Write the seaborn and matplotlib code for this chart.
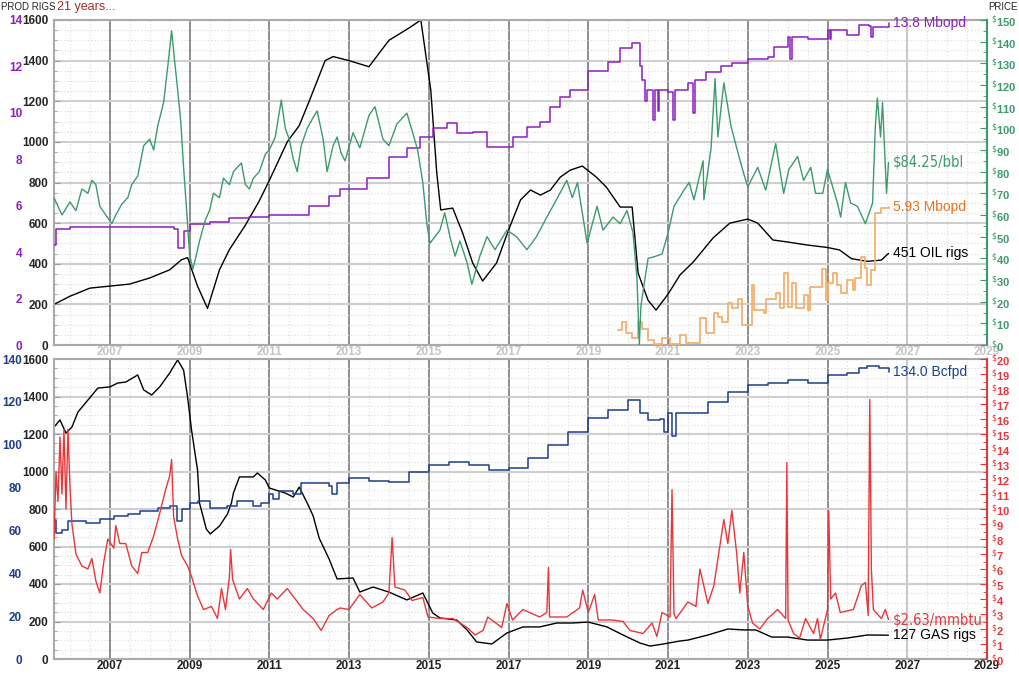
import matplotlib
matplotlib.use("Agg")
import matplotlib.pyplot as plt
import matplotlib.ticker as mticker
import seaborn as sns
import pandas as pd

# ---------------- data (year, value) ----------------
oil_rigs = [(2005.6, 200), (2006.0, 240), (2006.5, 280), (2007.0, 290), (2007.5, 300), (2008.0, 330),
            (2008.5, 370), (2008.8, 420), (2008.95, 430), (2009.2, 290), (2009.45, 180), (2009.75, 370),
            (2010.0, 470), (2010.4, 590), (2010.75, 710), (2011.0, 810), (2011.45, 1000), (2011.75, 1080),
            (2012.0, 1200), (2012.4, 1400), (2012.6, 1420), (2013.0, 1400), (2013.5, 1370), (2014.0, 1500),
            (2014.5, 1560), (2014.8, 1600), (2015.05, 1255), (2015.2, 847), (2015.3, 665), (2015.6, 674),
            (2015.85, 551), (2016.1, 404), (2016.35, 315), (2016.7, 404), (2017.0, 566), (2017.3, 714),
            (2017.55, 763), (2017.8, 738), (2018.05, 763), (2018.3, 827), (2018.55, 861), (2018.85, 881),
            (2019.2, 827), (2019.45, 778), (2019.8, 679), (2020.1, 679), (2020.25, 354), (2020.5, 220),
            (2020.7, 172), (2021.0, 250), (2021.3, 345), (2021.63, 408), (2022.13, 527), (2022.55, 600),
            (2023.0, 620), (2023.25, 600), (2023.63, 517), (2024.0, 507), (2024.5, 492), (2025.0, 480),
            (2025.3, 468), (2025.6, 425), (2026.0, 412), (2026.35, 418), (2026.53, 451)]

oil_prod = [(2005.6, 4.3), (2005.65, 5.0), (2006.0, 5.1), (2007.0, 5.1), (2008.0, 5.1), (2008.6, 5.0),
            (2008.7, 4.2), (2008.85, 4.9), (2009.0, 5.2), (2009.5, 5.3), (2010.0, 5.45), (2010.5, 5.5),
            (2011.0, 5.6), (2011.5, 5.6), (2012.0, 6.0), (2012.5, 6.4), (2012.77, 6.7), (2013.45, 7.2),
            (2014.0, 8.1), (2014.45, 8.5), (2014.78, 8.96), (2015.1, 9.35), (2015.45, 9.56), (2015.7, 9.13),
            (2016.1, 9.18), (2016.46, 8.53), (2016.78, 8.53), (2017.1, 8.96), (2017.46, 9.39), (2017.8, 9.6),
            (2018.04, 10.25), (2018.3, 10.7), (2018.55, 11.0), (2019.0, 11.8), (2019.5, 12.2), (2019.8, 12.8),
            (2020.1, 13.0), (2020.3, 12.0), (2020.35, 11.4), (2020.43, 10.5), (2020.47, 11.0), (2020.63, 9.7),
            (2020.67, 11.0), (2020.75, 10.1), (2020.78, 11.0), (2021.0, 10.9), (2021.13, 9.7), (2021.17, 11.0),
            (2021.5, 11.3), (2021.63, 10.0), (2021.67, 11.4), (2021.95, 11.76), (2022.33, 12.0),
            (2022.6, 12.15), (2023.0, 12.3), (2023.5, 12.4), (2023.65, 12.85), (2024.0, 13.25),
            (2024.05, 12.3), (2024.1, 13.25), (2024.5, 13.2), (2025.0, 13.55), (2025.05, 13.2),
            (2025.1, 13.55), (2025.5, 13.35), (2025.8, 13.8), (2026.05, 13.75), (2026.1, 13.25),
            (2026.15, 13.7), (2026.53, 13.85)]

oil_export = [(2019.75, 0.65), (2019.85, 1.0), (2019.95, 0.5), (2020.1, 0.3), (2020.25, 1.0), (2020.35, 0.7),
              (2020.5, 0.2), (2020.65, 0.05), (2020.85, 0.3), (2021.05, 0.05), (2021.3, 0.43), (2021.45, 0.1),
              (2021.8, 1.16), (2021.95, 0.5), (2022.15, 1.38), (2022.25, 1.2), (2022.35, 1.0), (2022.5, 1.8),
              (2022.6, 1.6), (2022.75, 2.0), (2022.85, 0.86), (2023.1, 2.58), (2023.15, 1.5), (2023.4, 1.38),
              (2023.45, 2.0), (2023.7, 2.24), (2023.8, 1.6), (2023.9, 3.1), (2024.0, 1.64), (2024.1, 2.67),
              (2024.2, 1.6), (2024.4, 2.15), (2024.5, 1.5), (2024.55, 2.5), (2024.8, 2.5), (2024.85, 3.27),
              (2024.95, 1.94), (2025.0, 2.67), (2025.15, 3.1), (2025.25, 2.6), (2025.35, 2.24), (2025.5, 2.8),
              (2025.65, 2.37), (2025.7, 2.9), (2025.85, 3.8), (2025.95, 3.3), (2026.0, 2.6), (2026.1, 3.23),
              (2026.2, 5.7), (2026.35, 5.9), (2026.53, 5.93)]

oil_price = [(2005.6, 68), (2005.7, 64), (2005.8, 60), (2005.9, 63), (2006.0, 66), (2006.15, 62), (2006.3, 72),
             (2006.45, 70), (2006.55, 76), (2006.65, 74), (2006.75, 64), (2006.9, 60), (2007.05, 56),
             (2007.15, 60), (2007.3, 65), (2007.45, 68), (2007.55, 74), (2007.7, 78), (2007.85, 92),
             (2008.0, 95), (2008.1, 90), (2008.2, 101), (2008.35, 112), (2008.45, 128), (2008.52, 140),
             (2008.55, 145), (2008.62, 132), (2008.7, 118), (2008.78, 103), (2008.85, 82), (2008.92, 64),
             (2009.0, 42), (2009.08, 35), (2009.15, 40), (2009.25, 48), (2009.4, 58), (2009.5, 62), (2009.6, 70),
             (2009.75, 68), (2009.85, 77), (2010.0, 74), (2010.1, 80), (2010.3, 84), (2010.4, 74), (2010.5, 72),
             (2010.6, 77), (2010.75, 80), (2010.9, 88), (2011.0, 90), (2011.15, 96), (2011.3, 113), (2011.4, 100),
             (2011.5, 95), (2011.6, 86), (2011.7, 80), (2011.8, 92), (2011.95, 100), (2012.1, 105), (2012.2, 108),
             (2012.35, 95), (2012.45, 80), (2012.6, 92), (2012.7, 96), (2012.8, 88.6), (2012.9, 85), (2013.1, 98),
             (2013.27, 91), (2013.5, 106), (2013.65, 110), (2013.85, 95), (2014.0, 92), (2014.2, 102),
             (2014.45, 107), (2014.58, 99), (2014.72, 90), (2014.85, 75), (2014.95, 56), (2015.03, 47),
             (2015.28, 53), (2015.4, 61), (2015.53, 50), (2015.66, 41), (2015.78, 48), (2015.96, 38),
             (2016.08, 28), (2016.28, 41), (2016.46, 50), (2016.66, 44), (2016.96, 53), (2017.2, 50),
             (2017.46, 44), (2017.7, 50), (2017.96, 59), (2018.2, 67), (2018.46, 76), (2018.6, 68), (2018.73, 75),
             (2018.97, 47), (2019.22, 64), (2019.37, 53), (2019.62, 59), (2019.8, 56), (2019.97, 62),
             (2020.12, 52), (2020.22, 31), (2020.28, 0), (2020.32, 18), (2020.4, 28), (2020.5, 40), (2020.7, 41),
             (2020.85, 42), (2021.0, 51.7), (2021.15, 64), (2021.4, 71.5), (2021.53, 75), (2021.65, 67),
             (2021.88, 85), (2021.9, 67), (2022.08, 91), (2022.18, 123), (2022.25, 96), (2022.4, 121),
             (2022.58, 101), (2022.75, 89), (2022.9, 79), (2023.0, 73), (2023.25, 82), (2023.45, 71.5),
             (2023.7, 93), (2023.9, 70), (2024.03, 81), (2024.25, 87), (2024.4, 76), (2024.58, 82), (2024.7, 70),
             (2024.88, 70), (2025.0, 81), (2025.25, 65.5), (2025.33, 59), (2025.45, 75), (2025.58, 65.5),
             (2025.75, 64), (2025.95, 56), (2026.13, 65.5), (2026.2, 101), (2026.25, 114), (2026.33, 96),
             (2026.38, 112), (2026.48, 70), (2026.53, 84.25)]

gas_rigs = [(2005.6, 1237), (2005.75, 1275), (2005.9, 1205), (2006.05, 1237), (2006.2, 1317), (2006.45, 1381),
            (2006.7, 1445), (2007.0, 1451), (2007.2, 1472), (2007.4, 1477), (2007.7, 1515), (2007.85, 1435),
            (2008.05, 1408), (2008.25, 1451), (2008.5, 1525), (2008.7, 1595), (2008.85, 1541), (2008.95, 1397),
            (2009.05, 1221), (2009.2, 1008), (2009.25, 832), (2009.42, 693), (2009.52, 667), (2009.75, 709),
            (2009.95, 773), (2010.05, 832), (2010.1, 885), (2010.25, 971), (2010.6, 971), (2010.7, 992),
            (2010.9, 955), (2011.0, 912), (2011.4, 885), (2011.6, 864), (2011.75, 917), (2011.95, 832),
            (2012.1, 763), (2012.25, 645), (2012.5, 533), (2012.7, 427), (2013.1, 432), (2013.27, 357),
            (2013.6, 384), (2014.0, 357), (2014.45, 315), (2014.85, 352), (2015.1, 245), (2015.28, 219),
            (2015.7, 208), (2015.96, 155), (2016.2, 91), (2016.58, 80), (2016.96, 139), (2017.36, 171),
            (2017.78, 171), (2018.21, 192), (2018.6, 192), (2019.0, 197), (2019.47, 171), (2019.87, 128),
            (2020.3, 85), (2020.55, 69), (2020.88, 80), (2021.3, 96), (2021.5, 101), (2022.0, 128),
            (2022.5, 160), (2022.9, 155), (2023.2, 155), (2023.6, 117), (2024.0, 117), (2024.5, 101),
            (2025.0, 101), (2025.5, 112), (2026.0, 128), (2026.53, 127)]

gas_prod = [(2005.6, 65), (2005.65, 59), (2005.8, 60), (2005.95, 64.4), (2006.4, 63.5), (2006.75, 65.3),
            (2007.1, 66.7), (2007.45, 67.6), (2007.75, 69), (2008.2, 70.5), (2008.5, 71.4), (2008.68, 64.4),
            (2008.8, 70), (2009.0, 72.8), (2009.2, 73.7), (2009.5, 70.5), (2009.95, 71.4), (2010.2, 73.7),
            (2010.6, 71.4), (2010.8, 72.8), (2011.0, 77), (2011.1, 74.7), (2011.25, 78.4), (2011.6, 77),
            (2011.8, 82), (2012.0, 82), (2012.5, 80.7), (2012.58, 77), (2012.7, 82), (2013.0, 84.5),
            (2013.5, 83), (2014.0, 82.6), (2014.5, 87.3), (2015.0, 90.5), (2015.5, 92), (2016.0, 90.5),
            (2016.5, 88.2), (2017.0, 89), (2017.5, 93.8), (2018.0, 99.9), (2018.5, 106), (2019.0, 112.5),
            (2019.5, 116), (2020.0, 121), (2020.3, 115), (2020.5, 111.5), (2020.8, 112), (2020.9, 106),
            (2021.0, 115), (2021.1, 104), (2021.2, 115), (2021.5, 115), (2022.0, 120), (2022.5, 124.6),
            (2023.0, 128), (2023.5, 129), (2024.0, 130), (2024.5, 129), (2025.0, 132.5), (2025.5, 133.5),
            (2025.8, 135.8), (2026.0, 136.7), (2026.3, 135.8), (2026.53, 134)]

gas_price = [(2005.6, 8.0), (2005.65, 12.5), (2005.7, 10.5), (2005.75, 14.8), (2005.8, 11.0), (2005.85, 15.3),
             (2005.9, 10.0), (2005.95, 15.3), (2006.0, 11.5), (2006.05, 9.0), (2006.15, 7.0), (2006.3, 6.2),
             (2006.45, 6.0), (2006.55, 6.7), (2006.65, 5.2), (2006.75, 4.4), (2006.85, 6.5), (2006.95, 8.0),
             (2007.1, 7.4), (2007.15, 8.9), (2007.25, 7.7), (2007.4, 7.7), (2007.55, 6.2), (2007.7, 5.7),
             (2007.8, 7.1), (2007.95, 7.1), (2008.1, 8.2), (2008.25, 9.7), (2008.4, 11.3), (2008.5, 12.2),
             (2008.55, 13.3), (2008.6, 9.5), (2008.7, 8.0), (2008.8, 6.9), (2008.95, 6.2), (2009.05, 5.5),
             (2009.2, 4.2), (2009.35, 3.3), (2009.55, 3.5), (2009.7, 2.7), (2009.8, 4.7), (2009.9, 3.3),
             (2010.0, 5.5), (2010.03, 7.3), (2010.08, 5.3), (2010.25, 4.0), (2010.45, 4.7), (2010.6, 4.0),
             (2010.85, 3.3), (2011.05, 4.4), (2011.2, 4.0), (2011.45, 4.7), (2011.65, 4.0), (2011.85, 3.3),
             (2012.1, 2.7), (2012.3, 1.9), (2012.5, 2.9), (2012.7, 3.3), (2012.78, 3.4), (2013.0, 3.3),
             (2013.27, 4.3), (2013.57, 3.4), (2013.85, 3.8), (2014.0, 4.4), (2014.08, 8.1), (2014.15, 4.8),
             (2014.4, 4.6), (2014.58, 3.9), (2014.85, 4.1), (2014.98, 2.8), (2015.28, 2.7), (2015.6, 2.7),
             (2015.96, 2.1), (2016.16, 1.6), (2016.36, 1.9), (2016.48, 2.8), (2016.83, 2.1), (2016.96, 3.7),
             (2017.1, 2.6), (2017.36, 3.3), (2017.78, 2.8), (2017.96, 3.1), (2018.0, 6.1), (2018.03, 2.8),
             (2018.46, 2.8), (2018.78, 3.4), (2018.86, 4.6), (2019.0, 3.1), (2019.16, 4.3), (2019.25, 2.6),
             (2019.6, 2.6), (2019.87, 2.5), (2020.05, 1.9), (2020.37, 1.7), (2020.6, 2.4), (2020.72, 1.5),
             (2020.85, 3.1), (2021.05, 2.8), (2021.1, 11.3), (2021.15, 3.0), (2021.2, 2.7), (2021.5, 3.8),
             (2021.7, 3.5), (2021.8, 6.0), (2022.0, 3.7), (2022.15, 4.9), (2022.4, 9.3), (2022.5, 7.7),
             (2022.6, 9.9), (2022.72, 7.1), (2022.8, 4.4), (2022.9, 7.1), (2023.0, 3.5), (2023.12, 2.4),
             (2023.3, 2.0), (2023.5, 2.7), (2023.75, 3.3), (2023.95, 2.7), (2023.98, 13.1), (2024.01, 2.6),
             (2024.15, 1.7), (2024.3, 1.4), (2024.45, 2.7), (2024.65, 1.7), (2024.75, 2.7), (2024.82, 1.3),
             (2025.0, 3.3), (2025.03, 9.9), (2025.08, 4.0), (2025.2, 4.4), (2025.32, 3.1), (2025.65, 3.3),
             (2025.85, 4.9), (2025.95, 5.1), (2026.02, 2.9), (2026.06, 17.3), (2026.1, 6.0), (2026.15, 3.3),
             (2026.35, 2.7), (2026.45, 3.3), (2026.53, 2.63)]

year_ticks = list(range(2007, 2030, 2))

# ---------------- style ----------------
sns.set_style("white")
plt.rcParams['font.family'] = ['Liberation Sans', 'DejaVu Sans']

PURPLE = '#8c1fc0'
GREEN = '#3d9a6c'
ORANGE_LINE = '#f3b06e'
ORANGE_TXT = '#e8741c'
NAVY = '#1d3f8c'
RED = '#e8373a'
NARROW = ['DejaVu Sans']


def frame(pts):
    return pd.DataFrame(pts, columns=['year', 'value'])


fig = plt.figure(figsize=(10.2, 6.76), dpi=100)
ax_top = fig.add_axes([54 / 1020, 1 - 345 / 676, 933 / 1020, 325 / 676])
ax_bot = fig.add_axes([54 / 1020, 1 - 659 / 676, 933 / 1020, 300 / 676])


def base_axis(ax, xlabel_color):
    ax.set_xlim(2005.6, 2029.0)
    ax.set_ylim(0, 1600)
    ax.yaxis.set_major_locator(mticker.MultipleLocator(200))
    ax.yaxis.set_minor_locator(mticker.MultipleLocator(50))
    ax.xaxis.set_major_locator(mticker.FixedLocator(year_ticks))
    ax.xaxis.set_minor_locator(mticker.MultipleLocator(0.5))
    ax.grid(which='major', axis='y', color='#cfcfcf', lw=1.5)
    ax.grid(which='minor', axis='both', color='#dadada', lw=0.8, ls=(0, (1, 2)))
    for yr in year_ticks:
        ax.axvline(yr, color='#7a7a7a' if yr < 2027 else '#bdbdbd', lw=1.2, zorder=0.5)
    ax.tick_params(axis='y', which='major', direction='in', length=4, color='#999999',
                   labelsize=8.5, pad=4)
    ax.tick_params(axis='y', which='minor', direction='in', length=2.5, color='#999999')
    ax.tick_params(axis='x', which='both', length=0, labelsize=8.5, labelcolor=xlabel_color, pad=1)
    for s in ax.spines.values():
        s.set_color('#aaaaaa')
        s.set_linewidth(1.5)


def left_outer(ax, top, step, color):
    axp = ax.twinx()
    axp.yaxis.tick_left()
    axp.set_ylim(0, top)
    axp.yaxis.set_major_locator(mticker.MultipleLocator(step))
    axp.tick_params(axis='y', length=0, pad=23, labelsize=8.5, labelcolor=color)
    for s in axp.spines.values():
        s.set_visible(False)
    return axp


def right_price(ax, top, step, minor, color):
    axc = ax.twinx()
    axc.set_ylim(0, top)
    axc.yaxis.set_major_locator(mticker.MultipleLocator(step))
    axc.yaxis.set_minor_locator(mticker.MultipleLocator(minor))
    axc.yaxis.set_major_formatter(mticker.FuncFormatter(lambda v, p: r'$^{\$}$' + f'{v:.0f}'))
    axc.tick_params(axis='y', which='major', direction='in', length=5, color=color,
                    labelsize=8, labelcolor=color, pad=3)
    axc.tick_params(axis='y', which='minor', direction='in', length=3, color=color)
    for s in axc.spines.values():
        s.set_visible(False)
    axc.spines['right'].set_visible(True)
    axc.spines['right'].set_color(color)
    axc.spines['right'].set_linewidth(1.5)
    return axc


def draw(ax, pts, color, lw=1.0, steps=False):
    kw = {'drawstyle': 'steps-post'} if steps else {}
    sns.lineplot(data=frame(pts), x='year', y='value', ax=ax, color=color, lw=lw,
                 estimator=None, **kw)


def end_label(ax, pts, text, color, size=10, narrow=False):
    x, y = pts[-1]
    kw = {'family': NARROW, 'fontstretch': 'condensed'} if narrow else {}
    ax.text(x + 0.12, y, text, color=color, fontsize=size, va='center', **kw)


# ---------------- top panel: oil ----------------
base_axis(ax_top, '#c4c4c4')
axp_top = left_outer(ax_top, 14, 2, PURPLE)
axc_top = right_price(ax_top, 150, 10, 5, GREEN)

draw(ax_top, oil_rigs, 'black')
draw(axp_top, oil_prod, PURPLE, 1.1, steps=True)
draw(axp_top, oil_export, ORANGE_LINE, 1.3, steps=True)
draw(axc_top, oil_price, GREEN)

end_label(axp_top, oil_prod, f'{oil_prod[-1][1]:.1f} Mbopd', PURPLE)
end_label(axc_top, oil_price, f'${oil_price[-1][1]:.2f}/bbl', GREEN, 10.5, narrow=True)
end_label(axp_top, oil_export, f'{oil_export[-1][1]:.2f} Mbopd', ORANGE_TXT)
end_label(ax_top, oil_rigs, f'{oil_rigs[-1][1]} OIL rigs', 'black')

# ---------------- bottom panel: gas ----------------
base_axis(ax_bot, '#222222')
axp_bot = left_outer(ax_bot, 140, 20, NAVY)
axc_bot = right_price(ax_bot, 20, 1, 0.5, RED)

draw(ax_bot, gas_rigs, 'black')
draw(axp_bot, gas_prod, NAVY, 1.1, steps=True)
draw(axc_bot, gas_price, RED)

end_label(axp_bot, gas_prod, f'{gas_prod[-1][1]:.1f} Bcfpd', NAVY)
end_label(axc_bot, gas_price, f'${gas_price[-1][1]:.2f}/mmbtu', RED, 10.5, narrow=True)
end_label(ax_bot, gas_rigs, f'{gas_rigs[-1][1]} GAS rigs', 'black')

for a in (ax_top, axp_top, axc_top, ax_bot, axp_bot, axc_bot):
    a.set_xlim(2005.6, 2029.0)
    a.set_xlabel('')
    a.set_ylabel('')

# ---------------- header texts ----------------
fig.text(1 / 1020, 1 - 7 / 676, 'PROD RIGS', fontsize=7, va='center', ha='left')
fig.text(57 / 1020, 1 - 7 / 676, '21 years...', fontsize=9, va='center', ha='left', color='#a52a2a')
fig.text(1018 / 1020, 1 - 7 / 676, 'PRICE', fontsize=7, va='center', ha='right')

# bold tick labels once ticks are final
fig.canvas.draw()
for a in (ax_top, axp_top, axc_top, ax_bot, axp_bot, axc_bot):
    plt.setp(a.get_yticklabels(), fontweight='bold')
    plt.setp(a.get_xticklabels(), fontweight='bold')

fig.savefig('out.png', dpi=100)
